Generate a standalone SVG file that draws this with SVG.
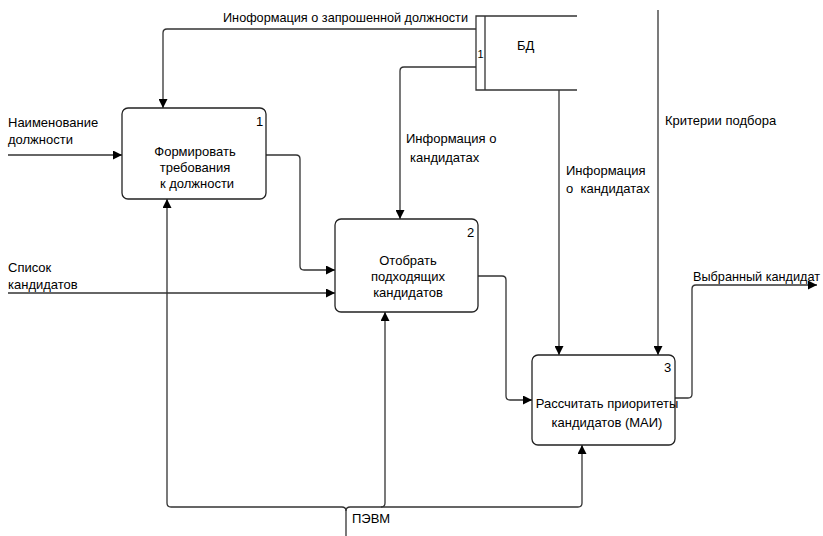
<svg xmlns="http://www.w3.org/2000/svg" width="823" height="536" viewBox="0 0 823 536">
  <defs>
    <marker id="arrow" viewBox="0 0 10 10" refX="10" refY="5" markerWidth="9" markerHeight="9" markerUnits="userSpaceOnUse" orient="auto">
      <path d="M0,0 L10,5 L0,10 Z" fill="#000"/>
    </marker>
    <style>
      .box { fill: #fff; stroke: #222; stroke-width: 1.3; }
      .line { fill: none; stroke: #333; stroke-width: 1.3; }
      .arr { marker-end: url(#arrow); }
      text { font-family: "Liberation Sans", Arial, sans-serif; font-size: 13px; fill: #000; }
      .c { text-anchor: middle; }
    </style>
  </defs>
  <rect width="823" height="536" fill="#fff"/>

  <!-- connectors -->
  <g id="connectors">
    <path class="line arr" d="M476,29 H167 Q163,29 163,33 V108"/>
    <path class="line arr" d="M476,67 H404 Q400,67 400,71 V219"/>
    <path class="line arr" d="M559,90 V355"/>
    <path class="line arr" d="M658,10 V355"/>
    <path class="line arr" d="M8,155 H122"/>
    <path class="line arr" d="M8,293 H335"/>
    <path class="line arr" d="M266,155 H296 Q300,155 300,159 V266 Q300,270 304,270 H335"/>
    <path class="line arr" d="M478,276 H502 Q506,276 506,280 V396 Q506,400 510,400 H532"/>
    <path class="line arr" d="M675,398 H688 Q692,398 692,394 V289 Q692,285 696,285 H817"/>
    <path class="line arr" d="M346,536 V511 Q346,507 342,507 H171 Q167,507 167,503 V199"/>
    <path class="line arr" d="M346,511 Q346,507 350,507 H381 Q385,507 385,503 V312"/>
    <path class="line arr" d="M381,507 H578 Q582,507 582,503 V445"/>

    <text x="223" y="22" textLength="245" lengthAdjust="spacingAndGlyphs">Иноформация о запрошенной должности</text>
    <text x="8" y="127">Наименование</text>
    <text x="8" y="144">должности</text>
    <text x="8" y="272">Список</text>
    <text x="8" y="289">кандидатов</text>
    <text x="406" y="143">Информация о</text>
    <text x="410" y="162">кандидатах</text>
    <text x="566" y="175">Информация</text>
    <text x="566" y="193">о&#160; кандидатах</text>
    <text x="665" y="125">Критерии подбора</text>
    <text x="693" y="281" textLength="127" lengthAdjust="spacingAndGlyphs">Выбранный кандидат</text>
    <text x="352" y="523">ПЭВМ</text>
  </g>

  <!-- data store -->
  <g id="db">
    <path class="line" d="M577,16 H476 V90 H577 M485,16 V90"/>
    <text x="477.5" y="58" style="font-size:11px">1</text>
    <text x="517" y="50">БД</text>
  </g>

  <g id="node1">
    <rect class="box" x="122" y="108" width="144" height="91" rx="6"/>
    <text x="256" y="126">1</text>
    <text class="c" x="195" y="156">Формировать</text>
    <text class="c" x="195" y="172">требования</text>
    <text class="c" x="197" y="188">к должности</text>
  </g>

  <g id="node2">
    <rect class="box" x="335" y="219" width="143" height="93" rx="6"/>
    <text x="467" y="237">2</text>
    <text class="c" x="408" y="265">Отобрать</text>
    <text class="c" x="408" y="281">подходящих</text>
    <text class="c" x="408" y="297">кандидатов</text>
  </g>

  <g id="node3">
    <rect class="box" x="532" y="355" width="143" height="90" rx="6"/>
    <text x="664" y="372">3</text>
    <text class="c" x="607" y="408">Рассчитать приоритеты</text>
    <text class="c" x="607" y="427">кандидатов (МАИ)</text>
  </g>
</svg>
